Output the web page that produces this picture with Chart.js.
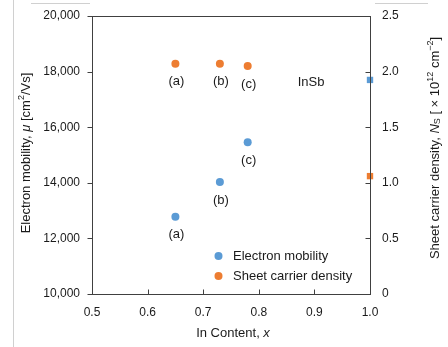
<!DOCTYPE html>
<html>
<head>
<meta charset="utf-8">
<script src="https://cdn.jsdelivr.net/npm/chart.js@4/dist/chart.umd.min.js"></script>
<style>
  html, body { margin: 0; padding: 0; background: #fff; }
  #wrap { width: 448px; height: 347px; position: relative; }
</style>
</head>
<body>
<div id="wrap"><canvas id="mobility-chart"></canvas></div>
<script>
// InGaSb channels (a)-(c) and the InSb reference
const inContent = [0.65, 0.73, 0.78];
const mobility = [12780, 14030, 15460];      // cm2/Vs
const density = [2.07, 2.07, 2.05];          // x 10^12 cm-2
const sampleLabels = ['(a)', '(b)', '(c)'];

const insbContent = [1.0];
const insbMobility = [17700];
const insbDensity = [1.06];
const insbLabel = 'InSb';
const insbLabelAt = { x: 0.894, y: 17620 };

const legendNames = ['Electron mobility', 'Sheet carrier density'];

const BLUE = '#5b9bd5';
const ORANGE = '#ed7d31';
const FONT = '"Liberation Sans", Arial, sans-serif';
const TEXT = '#1a1a1a';

function pts(xs, ys) {
    return xs.map((x, i) => ({ x: x, y: ys[i] }));
}

// draws a string made of pieces (italic / sup / sub), centred on (cx, cy)
function drawRich(ctx, parts, cx, cy, angle) {
    ctx.save();
    ctx.translate(cx, cy);
    ctx.rotate(angle);
    ctx.fillStyle = TEXT;
    ctx.textBaseline = 'middle';
    ctx.textAlign = 'left';
    const fontOf = p => (p.it ? 'italic ' : '') + (p.sup || p.sub ? '9px ' : '13px ') + FONT;
    let total = 0;
    parts.forEach(p => { ctx.font = fontOf(p); total += ctx.measureText(p.t).width; });
    let x = -total / 2;
    parts.forEach(p => {
        ctx.font = fontOf(p);
        const dy = p.sup ? -4 : (p.sub ? 3 : 0);
        ctx.fillText(p.t, x, dy);
        x += ctx.measureText(p.t).width;
    });
    ctx.restore();
}

const decorations = {
    id: 'decorations',
    beforeDraw(chart) {
        const ctx = chart.ctx;
        ctx.save();
        ctx.strokeStyle = '#d0d0d0';
        ctx.lineWidth = 1;
        ctx.beginPath();
        ctx.moveTo(13.5, 0); ctx.lineTo(13.5, 347);
        ctx.moveTo(31, 3.5); ctx.lineTo(90, 3.5);
        ctx.moveTo(375, 3.5); ctx.lineTo(428, 3.5);
        ctx.stroke();
        ctx.restore();
    },
    afterDraw(chart) {
        const ctx = chart.ctx;
        const a = chart.chartArea;
        const xs = chart.scales.x, yl = chart.scales.y, yr = chart.scales.y2;
        const l = Math.round(a.left) + 0.5, r = Math.round(a.right) + 0.5;
        const t = Math.round(a.top) + 0.5, b = Math.round(a.bottom) + 0.5;

        ctx.save();
        ctx.strokeStyle = '#404040';
        ctx.lineWidth = 1;
        ctx.strokeRect(l, t, r - l, b - t);

        // tick marks: outward on the left, inward on the right and bottom
        ctx.beginPath();
        yl.ticks.forEach(tk => {
            const y = Math.round(yl.getPixelForValue(tk.value)) + 0.5;
            ctx.moveTo(l - 5, y); ctx.lineTo(l, y);
        });
        yr.ticks.forEach(tk => {
            const y = Math.round(yr.getPixelForValue(tk.value)) + 0.5;
            ctx.moveTo(r - 5, y); ctx.lineTo(r, y);
        });
        xs.ticks.forEach(tk => {
            const x = Math.round(xs.getPixelForValue(tk.value)) + 0.5;
            ctx.moveTo(x, b - 5); ctx.lineTo(x, b);
        });
        ctx.stroke();

        // sample labels under each point
        ctx.font = '13px ' + FONT;
        ctx.fillStyle = TEXT;
        ctx.textAlign = 'center';
        ctx.textBaseline = 'middle';
        [0, 1].forEach(di => {
            chart.getDatasetMeta(di).data.forEach((el, i) => {
                ctx.fillText(sampleLabels[i], el.x + 1, el.y + 18);
            });
        });
        ctx.fillText(insbLabel, xs.getPixelForValue(insbLabelAt.x), yl.getPixelForValue(insbLabelAt.y));

        // legend inside the plot
        ctx.textAlign = 'left';
        [BLUE, ORANGE].forEach((c, i) => {
            const y = 256 + i * 20;
            ctx.fillStyle = c;
            ctx.beginPath();
            ctx.arc(218.5, y, 4, 0, Math.PI * 2);
            ctx.fill();
            ctx.fillStyle = TEXT;
            ctx.fillText(legendNames[i], 233, y);
        });
        ctx.restore();

        // axis titles
        drawRich(ctx, [
            { t: 'Electron mobility, ' }, { t: 'μ', it: true }, { t: ' [cm' }, { t: '2', sup: true }, { t: '/Vs]' }
        ], 26, 153, -Math.PI / 2);
        drawRich(ctx, [
            { t: 'Sheet carrier density, ' }, { t: 'N', it: true }, { t: 'S', sub: true },
            { t: ' [ × 10' }, { t: '12', sup: true }, { t: ' cm' }, { t: '−2', sup: true }, { t: ']' }
        ], 435, 148, -Math.PI / 2);
        drawRich(ctx, [{ t: 'In Content, ' }, { t: 'x', it: true }], 233, 333, 0);
    }
};

const tickFont = { family: FONT, size: 12 };
// invisible tick marks only used to push the labels away from the axis
const spacerGrid = { display: true, drawOnChartArea: false, drawTicks: true, tickLength: 12, color: 'rgba(0,0,0,0)' };

const config = {
    type: 'scatter',
    data: {
        datasets: [
            { label: legendNames[0], data: pts(inContent, mobility), yAxisID: 'y',
              backgroundColor: BLUE, borderColor: BLUE, pointRadius: 4, pointBorderWidth: 0 },
            { label: legendNames[1], data: pts(inContent, density), yAxisID: 'y2',
              backgroundColor: ORANGE, borderColor: ORANGE, pointRadius: 4, pointBorderWidth: 0 },
            { label: 'InSb mobility', data: pts(insbContent, insbMobility), yAxisID: 'y',
              backgroundColor: BLUE, borderColor: BLUE, pointStyle: 'rect', pointRadius: 4.5, pointBorderWidth: 0 },
            { label: 'InSb density', data: pts(insbContent, insbDensity), yAxisID: 'y2',
              backgroundColor: ORANGE, borderColor: ORANGE, pointStyle: 'rect', pointRadius: 4.5, pointBorderWidth: 0 }
        ]
    },
    options: {
        responsive: true,
        maintainAspectRatio: false,
        animation: false,
        clip: false,
        layout: { padding: { top: 16, left: 0, right: 0, bottom: 0 } },
        plugins: {
            legend: { display: false },
            tooltip: { enabled: false }
        },
        scales: {
            x: {
                type: 'linear', min: 0.5, max: 1.0,
                grid: { display: false, drawTicks: false },
                border: { display: false },
                ticks: { stepSize: 0.1, padding: 11, color: TEXT, font: tickFont,
                         callback: v => v.toFixed(1) },
                afterFit: s => { s.height = 53; }
            },
            y: {
                position: 'left', min: 10000, max: 20000,
                grid: spacerGrid,
                border: { display: false },
                ticks: { stepSize: 2000, padding: 0, color: TEXT, font: tickFont,
                         callback: v => v.toLocaleString('en-US') },
                afterFit: s => { s.width = 92; }
            },
            y2: {
                position: 'right', min: 0, max: 2.5,
                grid: spacerGrid,
                border: { display: false },
                ticks: { stepSize: 0.5, padding: 0, color: TEXT, font: tickFont,
                         callback: v => v === 0 ? '0' : v.toFixed(1) },
                afterFit: s => { s.width = 78; }
            }
        }
    },
    plugins: [decorations]
};

const chart = new Chart(document.getElementById('mobility-chart').getContext('2d'), config);
</script>
</body>
</html>
